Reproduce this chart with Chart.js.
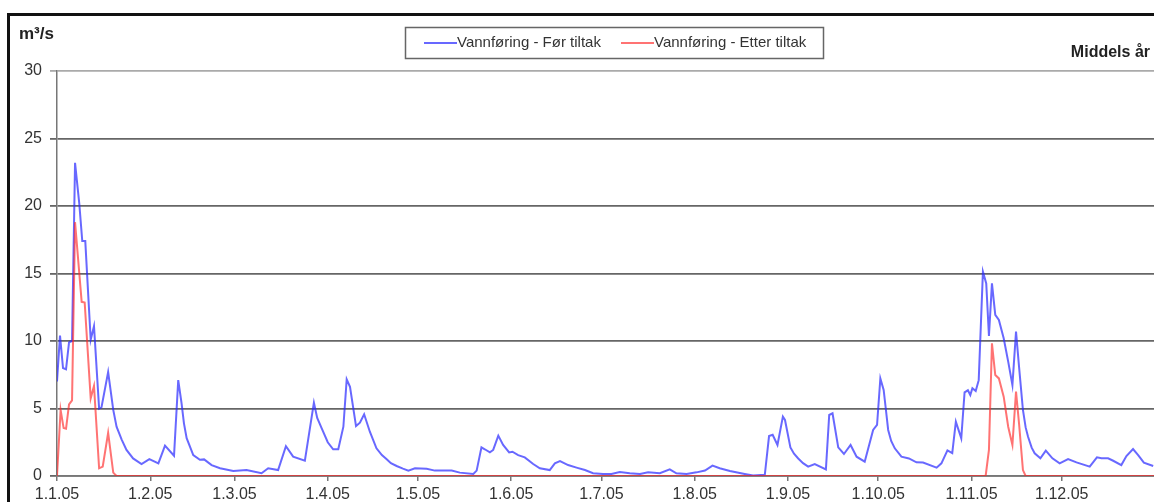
<!DOCTYPE html>
<html>
<head>
<meta charset="utf-8">
<script src="https://cdn.jsdelivr.net/npm/chart.js@4"></script>
<style>
  html, body { margin: 0; padding: 0; background: #fff; overflow: hidden; }
  #frame { position: absolute; left: 7px; top: 13px; width: 1300px; height: 600px; border: 3px solid #111; }
  #chart { position: absolute; left: 0; top: 0; }
</style>
</head>
<body>
<div id="frame"></div>
<canvas id="chart" width="1200" height="540"></canvas>
<script>
// day of year (0 = 1 Jan 2005) and flow in m3/s
const beforeDays = [0, 1, 2, 3, 4, 5, 6, 7.4, 8.4, 9.4, 11.2, 12.3, 14, 14.8, 17, 18.7, 19.8, 21.5, 23.1, 25.3, 28.1, 30.7,
  33.7, 35.9, 38.9, 40.3, 41.4, 42.2, 43.1, 45.3, 47.5, 48.9, 51.4, 54.2, 58.6, 63, 68, 70.2, 73.5, 76.1, 78.5, 82.4,
  85.4, 86.5, 88, 90, 91.8, 93.5, 95.2, 96.3, 97.4, 99.4, 100.7, 102.1, 104, 106.2, 108, 109.6, 111, 112.9, 115, 116.8,
  119, 122.9, 125.6, 131.2, 133.9, 138.4, 139.5, 141.1, 142.2, 143.9, 145, 146.7, 148.3, 150.3, 151.4, 153.3, 155.5,
  158.3, 160.5, 163.8, 165.5, 167.2, 169.9, 172.7, 175.5, 178.2, 181.5, 184.3, 187.1, 190.4, 193.8, 196.5, 200.4,
  203.7, 205.9, 209.3, 212.6, 215.4, 217.9, 220.3, 223.7, 228.6, 231.4, 235.3, 236.7, 237.9, 239.5, 241.3, 242,
  243.8, 245, 246.4, 248, 249.7, 251.9, 255.6, 256.7, 257.8, 259.7, 261.6, 263.8, 265.8, 268.5, 271.3, 272.6, 273.7,
  274.8, 275.5, 276.3, 277.3, 278.5, 280.7, 283.2, 285.7, 287.9, 292.4, 294, 296, 297.6, 298.8, 300.6, 301.7, 302.8,
  303.6, 304.3, 305.4, 306.4, 307.8, 308.9, 309.8, 310.8, 311.9, 313.1, 314.7, 316.2, 317.6, 318.8, 319.8, 321.1,
  322, 322.8, 324, 325, 326.9, 328.7, 330.9, 333.3, 336.1, 338.9, 343.3, 345.7, 347.2, 349.4, 351.1, 353.8, 355.5,
  357.7, 359.4, 361.3, 364.4];
const beforeFlow = [7.0, 10.4, 8.0, 7.9, 9.9, 10.0, 23.2, 20.2, 17.4, 17.4, 10.1, 11.1, 5.0, 5.1, 7.7, 4.9, 3.65, 2.7, 1.93, 1.3, 0.89, 1.25,
  0.94, 2.25, 1.5, 7.1, 5.4, 3.9, 2.8, 1.55, 1.2, 1.23, 0.81, 0.57, 0.37, 0.44, 0.2, 0.57, 0.44, 2.2, 1.43, 1.13,
  5.43, 4.3, 3.53, 2.5, 1.98, 1.98, 3.65, 7.16, 6.6, 3.7, 3.95, 4.57, 3.28, 2.05, 1.55, 1.24, 0.95, 0.74, 0.55, 0.4,
  0.57, 0.54, 0.4, 0.4, 0.25, 0.15, 0.4, 2.12, 1.98, 1.75, 1.93, 2.99, 2.3, 1.75, 1.8, 1.55, 1.38,
  0.89, 0.57, 0.44, 0.94, 1.1, 0.81, 0.62, 0.44, 0.2, 0.15, 0.15, 0.3, 0.2, 0.15, 0.27, 0.2,
  0.49, 0.2, 0.15, 0.27, 0.4, 0.77, 0.57, 0.37, 0.15, 0.03, 0.1, 2.96, 3.05, 2.3, 4.4, 4.15,
  2.12, 1.65, 1.3, 0.95, 0.69, 0.89, 0.49, 4.52, 4.64, 2.12, 1.63, 2.3, 1.43, 1.06, 3.41, 3.78, 7.23,
  6.37, 5.0, 3.41, 2.6, 2.05, 1.43, 1.3, 1.01, 1.0, 0.62, 0.94, 1.9, 1.7, 4.02, 2.79, 6.2, 6.35,
  6.0, 6.5, 6.3, 7.1, 15.14, 14.27, 10.37, 14.27, 11.93, 11.56, 10.2, 8.47, 6.74, 10.69, 8.1, 4.89,
  3.6, 2.91, 2.1, 1.68, 1.31, 1.88, 1.31, 0.94, 1.26, 1.01, 0.69, 1.38, 1.31, 1.31, 1.13, 0.81, 1.48,
  2.0, 1.55, 0.99, 0.74];

const afterDays = [0, 1.2, 2.2, 3, 4, 5, 6, 8.2, 9.2, 11.2, 12.3, 14, 15.2, 17, 18.7, 19.8,
  308.7, 309.8, 310.8, 311.9, 313.1, 314.7, 316.2, 317.6, 318.8, 319.8, 321.1, 322, 365];
const afterFlow = [0, 4.9, 3.55, 3.5, 5.3, 5.6, 18.8, 12.9, 12.85, 5.75, 6.67, 0.57, 0.7, 3.2, 0.25, 0,
  0, 1.93, 9.83, 7.48, 7.23, 5.88, 3.65, 2.3, 6.25, 3.9, 0.44, 0, 0];

const monthDays = [0, 31, 59, 90, 120, 151, 181, 212, 243, 273, 304, 334];
const monthLabels = ['1.1.05', '1.2.05', '1.3.05', '1.4.05', '1.5.05', '1.6.05', '1.7.05', '1.8.05', '1.9.05', '1.10.05', '1.11.05', '1.12.05'];

const seriesNames = ['Vannføring - Før tiltak', 'Vannføring - Etter tiltak'];
const unitLabel = 'm³/s';
const cornerLabel = 'Middels år';

const FONT = "'Liberation Sans', Arial, sans-serif";

const pts = (xs, ys) => xs.map((x, i) => ({ x: x, y: ys[i] }));

// legend box + loose labels drawn on the canvas
const extras = {
  id: 'extras',
  afterDraw(chart) {
    const ctx = chart.ctx;
    ctx.save();
    ctx.fillStyle = '#222';
    ctx.font = 'bold 17px ' + FONT;
    ctx.textBaseline = 'alphabetic';
    ctx.textAlign = 'left';
    ctx.fillText(unitLabel, 19, 39);
    ctx.font = 'bold 16px ' + FONT;
    ctx.textAlign = 'right';
    ctx.fillText(cornerLabel, 1150, 57);

    // legend
    ctx.strokeStyle = '#666';
    ctx.lineWidth = 1.5;
    ctx.strokeRect(405.5, 27.5, 418, 31);
    ctx.font = '15px ' + FONT;
    ctx.textAlign = 'left';
    ctx.textBaseline = 'middle';
    const starts = [424, 621];
    chart.data.datasets.forEach((ds, i) => {
      ctx.strokeStyle = ds.borderColor;
      ctx.lineWidth = 2;
      ctx.beginPath();
      ctx.moveTo(starts[i], 43);
      ctx.lineTo(starts[i] + 33, 43);
      ctx.stroke();
      ctx.fillStyle = '#333';
      ctx.fillText(ds.label, starts[i] + 33, 43);
    });
    ctx.restore();
  }
};

new Chart(document.getElementById('chart'), {
  type: 'line',
  data: {
    datasets: [
      {
        label: seriesNames[0],
        data: pts(beforeDays, beforeFlow),
        borderColor: 'rgba(40, 40, 255, 0.7)',
        borderWidth: 2,
        pointRadius: 0,
        tension: 0,
        order: 1
      },
      {
        label: seriesNames[1],
        data: pts(afterDays, afterFlow),
        borderColor: 'rgba(255, 40, 40, 0.65)',
        borderWidth: 2,
        pointRadius: 0,
        tension: 0,
        order: 0
      }
    ]
  },
  options: {
    responsive: false,
    animation: false,
    layout: { padding: { left: 7, top: 71, right: 45, bottom: 34 } },
    plugins: {
      legend: { display: false },
      tooltip: { enabled: false }
    },
    scales: {
      x: {
        type: 'linear',
        min: 0,
        max: 365,
        afterBuildTicks: s => { s.ticks = monthDays.map(v => ({ value: v })); },
        afterFit: s => { s.height = 30; },
        ticks: {
          autoSkip: false,
          maxRotation: 0,
          padding: 4,
          color: '#333',
          font: { family: FONT, size: 16 },
          callback: v => monthLabels[monthDays.indexOf(v)]
        },
        grid: { drawOnChartArea: false, tickLength: 5, color: '#777', lineWidth: 1.5 },
        border: { color: '#777', width: 1.5 }
      },
      y: {
        min: 0,
        max: 30,
        afterFit: s => { s.width = 50; },
        ticks: {
          stepSize: 5,
          padding: 8,
          color: '#333',
          font: { family: FONT, size: 16 }
        },
        grid: {
          color: c => (c.tick && c.tick.value === 30 ? '#aaa' : '#666'),
          lineWidth: 1.8,
          tickLength: 7
        },
        border: { color: '#777', width: 1.5 }
      }
    }
  },
  plugins: [extras]
});
</script>
</body>
</html>
